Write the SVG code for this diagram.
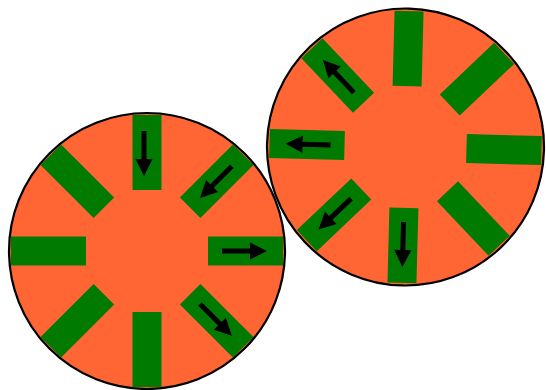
<svg xmlns="http://www.w3.org/2000/svg" width="546" height="390" viewBox="0 0 546 390">
<defs>
<style>
.disc{fill:#ff6633;stroke:#000;stroke-width:2.2}
.bar{fill:#007a00}
.arr{fill:#000}
</style>
<rect id="bar" class="bar" x="61" y="-14.5" width="75" height="29"/>
<path id="out" class="arr" d="M75,-2.5 L103,-2.5 L103,-8.5 L120,0 L103,8.5 L103,2.5 L75,2.5 Z"/>
<path id="in" class="arr" d="M120,-2.5 L92,-2.5 L92,-8.5 L75,0 L92,8.5 L92,2.5 L120,2.5 Z"/>
</defs>
<rect width="546" height="390" fill="#fff"/>
<g id="gear-left" transform="translate(147,251)">
<circle class="disc" r="138"/>
<use href="#bar"/>
<use href="#bar" transform="rotate(45)"/>
<use href="#bar" transform="rotate(90)"/>
<use href="#bar" transform="rotate(135)"/>
<use href="#bar" transform="rotate(180)"/>
<use href="#bar" transform="rotate(225)"/>
<use href="#bar" transform="rotate(270)"/>
<use href="#bar" transform="rotate(315)"/>
<use href="#out"/>
<use href="#out" transform="rotate(45)"/>
<use href="#in" transform="rotate(270) translate(0,-3)"/>
<use href="#in" transform="rotate(315)"/>
</g>
<g id="gear-right" transform="translate(405.5,147) rotate(1.5)">
<circle class="disc" r="138.5"/>
<use href="#bar"/>
<use href="#bar" transform="rotate(45)"/>
<use href="#bar" transform="rotate(90)"/>
<use href="#bar" transform="rotate(135)"/>
<use href="#bar" transform="rotate(180)"/>
<use href="#bar" transform="rotate(225)"/>
<use href="#bar" transform="rotate(270)"/>
<use href="#bar" transform="rotate(315)"/>
<use href="#out" transform="rotate(90)"/>
<use href="#out" transform="rotate(135)"/>
<use href="#out" transform="rotate(180)"/>
<use href="#out" transform="rotate(225)"/>
</g>
</svg>
